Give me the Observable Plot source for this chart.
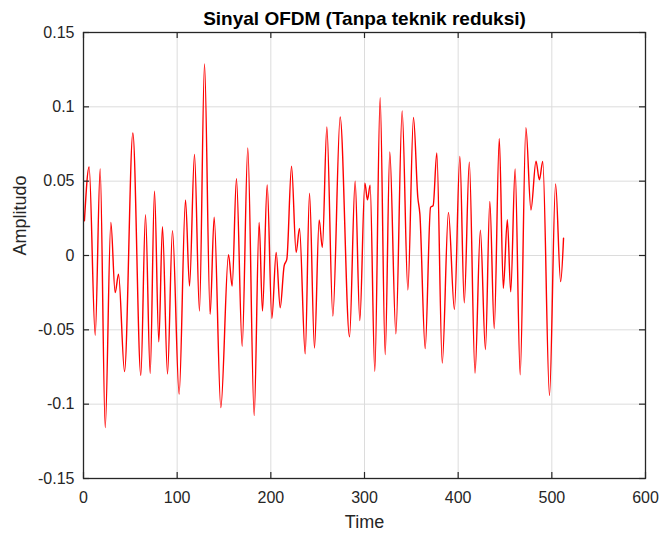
<!DOCTYPE html>
<html>
<head>
<meta charset="utf-8">
<script src="https://cdn.jsdelivr.net/npm/d3@7"></script>
<script src="https://cdn.jsdelivr.net/npm/@observablehq/plot@0.6"></script>
<style>
  html, body { margin: 0; padding: 0; background: #ffffff; }
</style>
</head>
<body>
<div id="chart"></div>
<script>
// Local extrema (and a few shoulder points) of the OFDM signal
const sampleIndex = [
  1, 6, 12.5, 17.8, 23.2, 29.2, 33.8, 37.4, 43.8, 52.7,
  61.2, 66.2, 71.2, 75.8, 80.4, 84.3, 89.7, 95.0, 102.1, 108.9,
  113.2, 118.5, 123.8, 129.2, 135.2, 139.5, 146.6, 154.8, 158.7, 163.3,
  169.4, 175.4, 182.2, 187.5, 191.1, 196.1, 201.1, 205.7, 210.0, 214.2,
  217.1, 222.1, 227.0, 230.6, 236.7, 241.3, 246.6, 251.6, 255.0, 259.8,
  266.2, 274.0, 284.0, 290.0, 295.0, 300.4, 303.2, 306.0, 311.0, 316.7,
  322.1, 327.0, 333.5, 340.2, 346.3, 352.3, 356.9, 359.1, 364.8, 370.5,
  373.3, 377.2, 383.0, 389.6, 396.0, 401.8, 406.5, 411.9, 418.0, 423.7,
  429.1, 433.8, 438.5, 443.9, 448.2, 452.5, 456.1, 460.8, 466.2, 472.3,
  477.7, 483.1, 486.7, 490.3, 497.5, 504.0, 509.4, 512.5
];
const amplitude = [
  0.0234, 0.0595, -0.0536, 0.0583, -0.1158, 0.0223, -0.0250, -0.0126, -0.0780, 0.0824,
  -0.0806, 0.0275, -0.0793, 0.0432, -0.0581, 0.0194, -0.0797, 0.0167, -0.0932, 0.0374,
  -0.0205, 0.0680, -0.0374, 0.1288, -0.0396, 0.0257, -0.1023, 0.0005, -0.0205, 0.0516,
  -0.0610, 0.0723, -0.1077, 0.0223, -0.0374, 0.0475, -0.0423, 0.0020, -0.0351, -0.0070,
  -0.0025, 0.0601, 0.0020, 0.0182, -0.0662, 0.0419, -0.0622, 0.0239, 0.0054, 0.0865,
  -0.0408, 0.0932, -0.0547, 0.0500, -0.0437, 0.0486, 0.0374, 0.0473, -0.0779, 0.1061,
  -0.0667, 0.0696, -0.0527, 0.0973, -0.0232, 0.0928, 0.0392, 0.0280, -0.0626, 0.0324,
  0.0336, 0.0689, -0.0723, 0.0290, -0.0363, 0.0667, -0.0318, 0.0628, -0.0791, 0.0171,
  -0.0633, 0.0363, -0.0491, 0.0786, -0.0221, 0.0241, -0.0245, 0.0583, -0.0802, 0.0860,
  0.0306, 0.0635, 0.0509, 0.0633, -0.0941, 0.0482, -0.0176, 0.0117
];
const xTicks = [0, 100, 200, 300, 400, 500, 600];
const yTicks = [-0.15, -0.1, -0.05, 0, 0.05, 0.1, 0.15];
const yTickLabels = ["-0.15", "-0.1", "-0.05", "0", "0.05", "0.1", "0.15"];
const titleText = "Sinyal OFDM (Tanpa teknik reduksi)";
const xLabelText = "Time";
const yLabelText = "Amplitudo";

const signal = sampleIndex.map((x, i) => ({x, y: amplitude[i]}));

const W = 662, H = 537;
const mL = 83, mR = 17, mT = 32, mB = 59;
const innerW = W - mL - mR, innerH = H - mT - mB;
const tickLen = 6;
const axisColor = "#262626";
const gridColor = "#dcdcdc";

const chart = Plot.plot({
  width: W,
  height: H,
  marginLeft: mL,
  marginRight: mR,
  marginTop: mT,
  marginBottom: mB,
  style: {fontFamily: "'Liberation Sans', Arial, Helvetica, sans-serif", fontSize: "16px", color: axisColor, background: "#ffffff"},
  x: {domain: [0, 600]},
  y: {domain: [-0.15, 0.15]},
  marks: [
    Plot.gridX(xTicks.slice(1, -1), {stroke: gridColor, strokeOpacity: 1, strokeWidth: 1}),
    Plot.gridY(yTicks.slice(1, -1), {stroke: gridColor, strokeOpacity: 1, strokeWidth: 1}),
    Plot.lineY(signal, {x: "x", y: "y", stroke: "#ff0000", strokeWidth: 1.4, curve: "monotone-x"}),
    // inward ticks on all four sides
    Plot.tickX(xTicks, {x: d => d, insetTop: innerH - tickLen, stroke: axisColor, strokeWidth: 1.2}),
    Plot.tickX(xTicks, {x: d => d, insetBottom: innerH - tickLen, stroke: axisColor, strokeWidth: 1.2}),
    Plot.tickY(yTicks, {y: d => d, insetRight: innerW - tickLen, stroke: axisColor, strokeWidth: 1.2}),
    Plot.tickY(yTicks, {y: d => d, insetLeft: innerW - tickLen, stroke: axisColor, strokeWidth: 1.2}),
    Plot.axisX(xTicks, {tickSize: 0, tickPadding: 13, tickFormat: d => String(d), label: null, fontSize: 16, fill: axisColor}),
    Plot.axisY(yTicks, {tickSize: 0, tickPadding: 9, tickFormat: (d, i) => yTickLabels[i], label: null, fontSize: 16, fill: axisColor}),
    Plot.frame({stroke: axisColor, strokeWidth: 1.3}),
    Plot.text([titleText], {frameAnchor: "top", lineAnchor: "bottom", dy: -8, fontSize: 19, fontWeight: "bold", fill: "#000000"}),
    Plot.text([xLabelText], {frameAnchor: "bottom", lineAnchor: "top", dy: 37, fontSize: 18, fill: axisColor}),
    Plot.text([yLabelText], {frameAnchor: "left", rotate: -90, lineAnchor: "middle", dx: -63, fontSize: 18, fill: axisColor})
  ]
});
document.getElementById("chart").appendChild(chart);
</script>
</body>
</html>
